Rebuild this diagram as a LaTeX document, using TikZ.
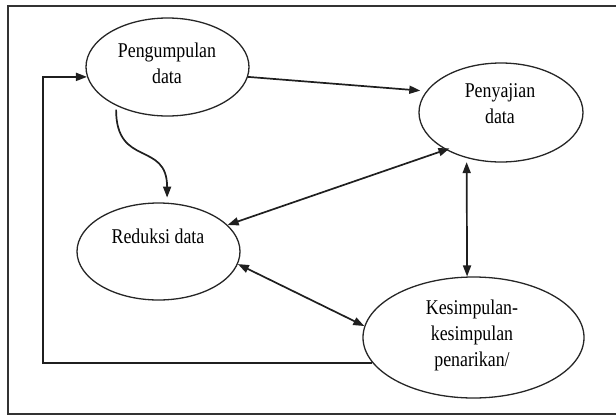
\documentclass[tikz,border=0pt]{standalone}
\usepackage{fontspec}
\setmainfont{Liberation Serif}[FakeStretch=0.85]
\usetikzlibrary{shapes.geometric,arrows.meta}
\tikzset{
  ell/.style={draw=black!85, line width=1.3pt, ellipse, inner sep=0pt},
  lbl/.style={font=\fontsize{21}{26}\selectfont, align=center, inner sep=0pt, text=black},
  tip/.tip={Triangle[length=11pt,width=8pt]},
  conn/.style={draw=black!88, line width=1.7pt, -tip},
  dconn/.style={draw=black!88, line width=1.7pt, tip-tip}
}
\begin{document}
\begin{tikzpicture}[x=1pt,y=-1pt]
\useasboundingbox (0,0) rectangle (616,416);
\draw[line width=1.5pt, draw=black!80] (616,6) -- (8,6) -- (8,414) -- (616,414);

\node[ell, minimum width=163pt, minimum height=98pt] (peng) at (167.5,67) {};
\node[ell, minimum width=164pt, minimum height=99pt] (peny) at (501,112.5) {};
\node[ell, minimum width=163pt, minimum height=97pt] (red) at (158.5,251.5) {};
\node[ell, minimum width=221pt, minimum height=121pt] (kes) at (473.5,337.5) {};

\node[lbl] (tpeng) at (167,63) {Pengumpulan\\data};
\node[lbl] (tpeny) at (500,104) {Penyajian\\data};
\node[lbl] (tred) at (158,236) {Reduksi data};
\node[lbl] (tkes) at (472,335) {Kesimpulan-\\kesimpulan\\penarikan/};

\coordinate (lc) at (43,0);

\draw[conn, shorten >=6pt] (peng.-7) -- (peny.164);
\draw[conn, shorten <=4pt, shorten >=5pt] (peng.217) .. controls +(0,62) and +(0,-62) .. (red.80);
\draw[dconn, shorten <=-4pt] (peny.214) -- (red.21);
\draw[dconn] (red.-9) -- (kes.174.6);
\draw[dconn, shorten <=4pt] (peny.233) -- (kes.96);
\draw[conn] (kes.194) -- (kes.194 -| lc) -- (lc |- peng.187) -- (peng.187);
\end{tikzpicture}
\end{document}
